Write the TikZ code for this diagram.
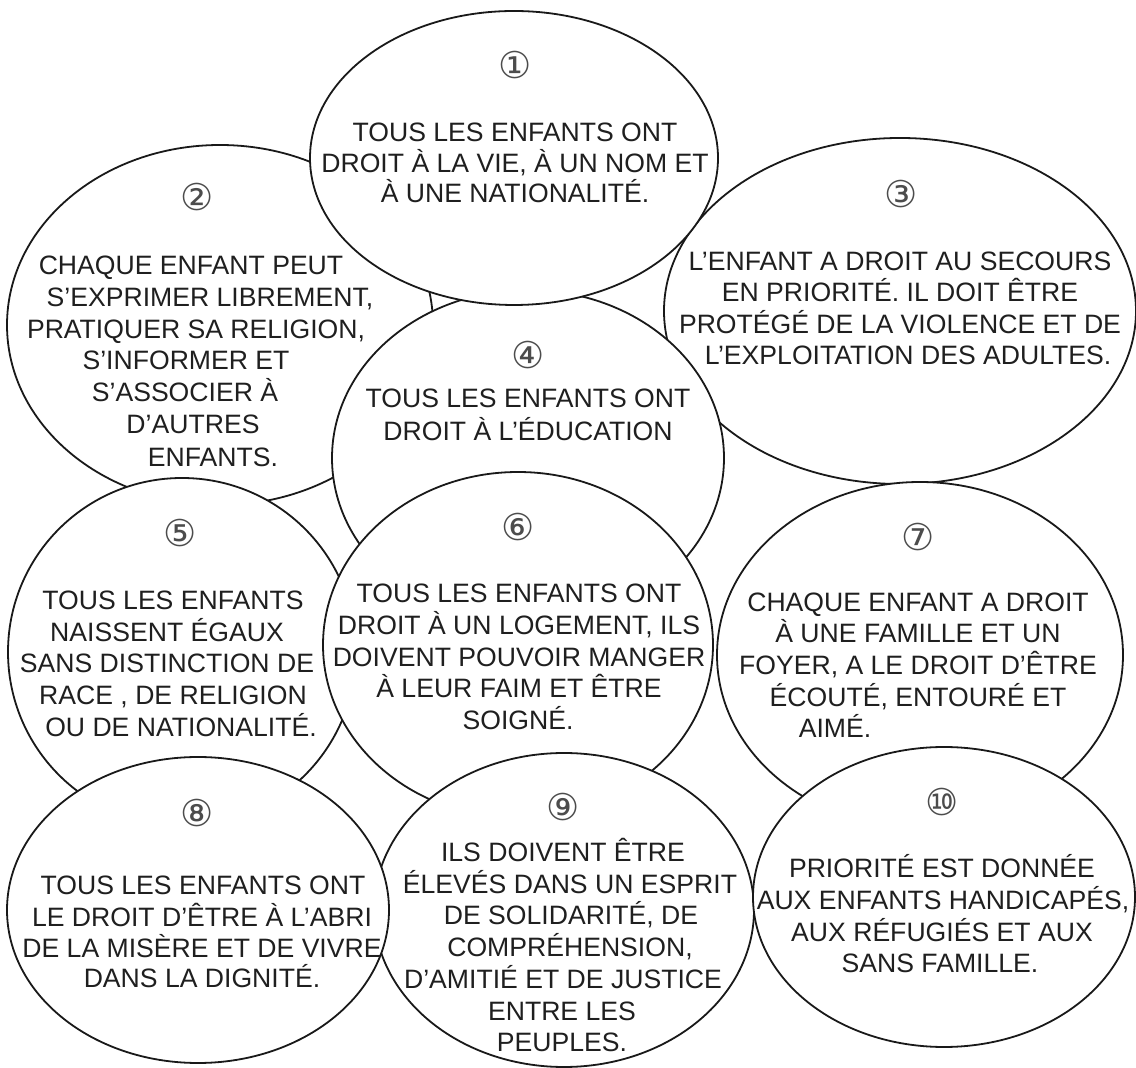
\documentclass[tikz,border=0pt]{standalone}
\usepackage{fontspec}
\setmainfont{Liberation Sans}
\newfontfamily\circfont{DejaVu Sans}
\usetikzlibrary{shapes.geometric}
\begin{document}
\begin{tikzpicture}[x=0.5pt,y=-0.5pt,
  oval/.style={ellipse, draw=black!90, line width=0.9pt, fill=white, inner sep=0pt},
  txt/.style={anchor=base, inner sep=0pt, font=\fontsize{13.3pt}{16pt}\selectfont, text=black!88},
  num/.style={anchor=center, inner sep=0pt, font=\circfont\fontsize{18.5pt}{20pt}\selectfont, text=black!70}]
\fill[white] (0,0) rectangle (1136,1068);
\useasboundingbox (0,0) rectangle (1136,1068);
% ellipses, back to front
\node[oval, minimum width=213pt, minimum height=180pt] (e2) at (220,325) {};
\node[oval, minimum width=236pt, minimum height=173pt] (e3) at (900,311) {};
\node[oval, minimum width=196pt, minimum height=168pt] (e4) at (528,458) {};
\node[oval, minimum width=204pt, minimum height=147pt] (e1) at (514,158) {};
\node[oval, minimum width=174pt, minimum height=174pt] (e5) at (182,652) {};
\node[oval, minimum width=195pt, minimum height=173pt] (e6) at (518,645) {};
\node[oval, minimum width=203pt, minimum height=173pt] (e7) at (920,655) {};
\node[oval, minimum width=190pt, minimum height=157pt] (e9) at (564,910) {};
\node[oval, minimum width=191pt, minimum height=153pt] (e8) at (198,910) {};
\node[oval, minimum width=191pt, minimum height=150pt] (e10) at (944,897) {};
% 1
\node[num] (n1) at (515,65) {①};
\node[txt] (t1a) at (515,141.5) {TOUS LES ENFANTS ONT};
\node[txt] (t1b) at (515,172.5) {DROIT À LA VIE, À UN NOM ET};
\node[txt] (t1c) at (515,202.5) {À UNE NATIONALITÉ.};
% 2
\node[num] (n2) at (197,197) {②};
\node[txt] (t2a) at (191,274.5) {CHAQUE ENFANT PEUT};
\node[txt] (t2b) at (210,306.5) {S’EXPRIMER LIBREMENT,};
\node[txt] (t2c) at (196,338.5) {PRATIQUER SA RELIGION,};
\node[txt] (t2d) at (186,369.5) {S’INFORMER ET};
\node[txt] (t2e) at (185,401.5) {S’ASSOCIER À};
\node[txt] (t2f) at (193,433.5) {D’AUTRES};
\node[txt] (t2g) at (213,466.5) {ENFANTS.};
% 3
\node[num] (n3) at (901,194) {③};
\node[txt] (t3a) at (900,270.5) {L’ENFANT A DROIT AU SECOURS};
\node[txt] (t3b) at (900,302) {EN PRIORITÉ. IL DOIT ÊTRE};
\node[txt] (t3c) at (900,333.5) {PROTÉGÉ DE LA VIOLENCE ET DE};
\node[txt] (t3d) at (908,365) {L’EXPLOITATION DES ADULTES.};
% 4
\node[num] (n4) at (528,355) {④};
\node[txt] (t4a) at (528,408) {TOUS LES ENFANTS ONT};
\node[txt] (t4b) at (528,441) {DROIT À L’ÉDUCATION};
% 5
\node[num] (n5) at (180,533) {⑤};
\node[txt] (t5a) at (173,609.5) {TOUS LES ENFANTS};
\node[txt] (t5b) at (167,641.5) {NAISSENT ÉGAUX};
\node[txt] (t5c) at (167,672.5) {SANS DISTINCTION DE};
\node[txt] (t5d) at (173,704.5) {RACE , DE RELIGION};
\node[txt] (t5e) at (181,736.5) {OU DE NATIONALITÉ.};
% 6
\node[num] (n6) at (518,527) {⑥};
\node[txt] (t6a) at (519,602.5) {TOUS LES ENFANTS ONT};
\node[txt] (t6b) at (519,634.5) {DROIT À UN LOGEMENT, ILS};
\node[txt] (t6c) at (519,666.5) {DOIVENT POUVOIR MANGER};
\node[txt] (t6d) at (519,697.5) {À LEUR FAIM ET ÊTRE};
\node[txt] (t6e) at (518,729.5) {SOIGNÉ.};
% 7
\node[num] (n7) at (918,537) {⑦};
\node[txt] (t7a) at (918,611.5) {CHAQUE ENFANT A DROIT};
\node[txt] (t7b) at (918,642.5) {À UNE FAMILLE ET UN};
\node[txt] (t7c) at (918,674.5) {FOYER, A LE DROIT D’ÊTRE};
\node[txt] (t7d) at (918,706.5) {ÉCOUTÉ, ENTOURÉ ET};
\node[txt] (t7e) at (835,737.5) {AIMÉ.};
% 8
\node[num] (n8) at (197,813) {⑧};
\node[txt] (t8a) at (203,894.5) {TOUS LES ENFANTS ONT};
\node[txt] (t8b) at (202,926.5) {LE DROIT D’ÊTRE À L’ABRI};
\node[txt] (t8c) at (202,957.5) {DE LA MISÈRE ET DE VIVRE};
\node[txt] (t8d) at (202,987.5) {DANS LA DIGNITÉ.};
% 9
\node[num] (n9) at (563,807) {⑨};
\node[txt] (t9a) at (563,861.5) {ILS DOIVENT ÊTRE};
\node[txt] (t9b) at (570,893.5) {ÉLEVÉS DANS UN ESPRIT};
\node[txt] (t9c) at (571,924.5) {DE SOLIDARITÉ, DE};
\node[txt] (t9d) at (570,956.5) {COMPRÉHENSION,};
\node[txt] (t9e) at (563,988.5) {D’AMITIÉ ET DE JUSTICE};
\node[txt] (t9f) at (562,1020.5) {ENTRE LES};
\node[txt] (t9g) at (562,1051.5) {PEUPLES.};
% 10
\node[num] (n10) at (942,802) {⑩};
\node[txt] (t10a) at (942,877.5) {PRIORITÉ EST DONNÉE};
\node[txt] (t10b) at (943,909.5) {AUX ENFANTS HANDICAPÉS,};
\node[txt] (t10c) at (942,941.5) {AUX RÉFUGIÉS ET AUX};
\node[txt] (t10d) at (940,972.5) {SANS FAMILLE.};
\end{tikzpicture}
\end{document}
